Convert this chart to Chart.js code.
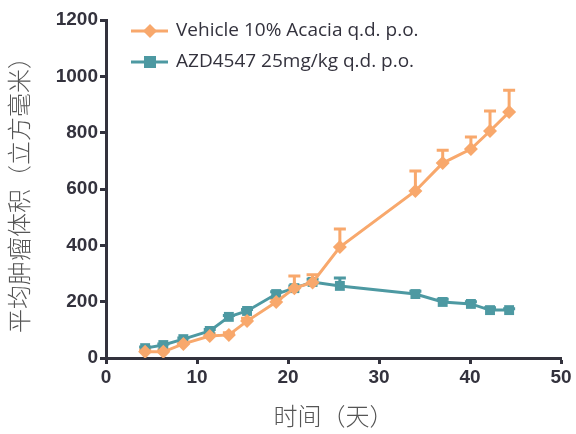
<!DOCTYPE html>
<html>
<head>
<meta charset="utf-8">
<script src="https://cdn.jsdelivr.net/npm/chart.js@4"></script>
<style>
  html, body { margin: 0; padding: 0; background: #fff; }
  #wrap { width: 576px; height: 434px; }
</style>
</head>
<body>
<div id="wrap"><canvas id="tumorChart" width="576" height="434"></canvas></div>
<script>
// data
const days = [4.3, 6.3, 8.5, 11.4, 13.5, 15.5, 18.7, 20.7, 22.7, 25.7, 34, 37, 40.1, 42.2, 44.3];
const vehicle = [22, 22, 50, 78, 82, 131, 199, 248, 268, 394, 593, 692, 742, 806, 873];
const vehicleErr = [6, 6, 6, 8, 8, 10, 12, 43, 28, 64, 71, 46, 43, 71, 78];
const azd = [35, 46, 67, 96, 146, 167, 227, 248, 270, 256, 227, 199, 192, 170, 170];
const azdErr = [4, 4, 4, 5, 5, 5, 8, 8, 10, 28, 10, 10, 8, 8, 5];
const seriesNames = ["Vehicle 10% Acacia q.d. p.o.", "AZD4547 25mg/kg q.d. p.o."];
const xTicks = [0, 10, 20, 30, 40, 50];
const yTicks = [0, 200, 400, 600, 800, 1000, 1200];

const orange = "#f8a86c";
const teal = "#4d99a2";
const axisColor = "#33323d";

function toPoints(ys) {
  return days.map(function (d, i) { return { x: d, y: ys[i] }; });
}

// upward-only error bars, drawn under the markers
const errorBars = {
  id: "errorBars",
  beforeDatasetsDraw(chart) {
    const ctx = chart.ctx;
    const xs = chart.scales.x, ys = chart.scales.y;
    const errs = [vehicleErr, azdErr];
    chart.data.datasets.forEach(function (ds, k) {
      ctx.save();
      ctx.strokeStyle = ds.borderColor;
      ctx.lineWidth = 3;
      ds.data.forEach(function (p, i) {
        const px = xs.getPixelForValue(p.x);
        const py = ys.getPixelForValue(p.y);
        const top = ys.getPixelForValue(p.y + errs[k][i]);
        ctx.beginPath();
        ctx.moveTo(px, py);
        ctx.lineTo(px, top);
        ctx.moveTo(px - 6, top);
        ctx.lineTo(px + 6, top);
        ctx.stroke();
      });
      ctx.restore();
    });
  }
};

// legend with line + marker, inside the plot
const lineLegend = {
  id: "lineLegend",
  afterDraw(chart) {
    const ctx = chart.ctx;
    const rows = [
      { y: 31, color: orange, shape: "diamond" },
      { y: 62, color: teal, shape: "square" }
    ];
    rows.forEach(function (r, i) {
      ctx.save();
      ctx.strokeStyle = r.color;
      ctx.fillStyle = r.color;
      ctx.lineWidth = 3;
      ctx.beginPath();
      ctx.moveTo(131, r.y);
      ctx.lineTo(168, r.y);
      ctx.stroke();
      ctx.beginPath();
      if (r.shape === "diamond") {
        ctx.moveTo(150, r.y - 7);
        ctx.lineTo(157, r.y);
        ctx.lineTo(150, r.y + 7);
        ctx.lineTo(143, r.y);
      } else {
        ctx.rect(144, r.y - 6, 12, 12);
      }
      ctx.fill();
      ctx.fillStyle = "#33323d";
      ctx.font = "19px 'Open Sans', sans-serif";
      ctx.textBaseline = "middle";
      ctx.fillText(seriesNames[i], 176, r.y);
      ctx.restore();
    });
  }
};

const tickFont = { family: "Liberation Sans", size: 19, weight: "bold" };

const ctx = document.getElementById("tumorChart").getContext("2d");

const tumorChart = new Chart(ctx, {
  type: "line",
  data: {
    datasets: [{
      label: seriesNames[0],
      data: toPoints(vehicle),
      borderColor: orange,
      backgroundColor: orange,
      borderWidth: 3,
      pointStyle: "rectRot",
      pointRadius: 7,
      pointBorderWidth: 0,
      tension: 0
    }, {
      label: seriesNames[1],
      data: toPoints(azd),
      borderColor: teal,
      backgroundColor: teal,
      borderWidth: 3,
      pointStyle: "rect",
      pointRadius: 7,
      pointBorderWidth: 0,
      tension: 0
    }]
  },
  options: {
    responsive: false,
    animation: false,
    layout: { padding: { top: 20, right: 15 } },
    plugins: {
      legend: { display: false },
      tooltip: { enabled: false }
    },
    scales: {
      x: {
        type: "linear",
        min: 0,
        max: 50,
        afterFit(scale) { scale.height = 76; },
        afterBuildTicks(scale) { scale.ticks = xTicks.map(function (v) { return { value: v }; }); },
        border: { display: true, width: 3, color: axisColor },
        grid: { display: true, drawOnChartArea: false, drawTicks: true, tickLength: 6, tickWidth: 3, tickColor: axisColor },
        ticks: {
          color: axisColor,
          padding: 2,
          font: tickFont,
          callback: function (v) { return String(v); }
        },
        title: {
          display: true,
          text: "时间（天）",
          color: "#555555",
          padding: { top: 6 },
          font: { family: "Noto Sans CJK SC", size: 24, weight: 300 }
        }
      },
      y: {
        type: "linear",
        min: 0,
        max: 1200,
        afterFit(scale) { scale.width = 106; },
        afterBuildTicks(scale) { scale.ticks = yTicks.map(function (v) { return { value: v }; }); },
        border: { display: true, width: 3, color: axisColor },
        grid: { display: true, drawOnChartArea: false, drawTicks: true, tickLength: 6, tickWidth: 3, tickColor: axisColor },
        ticks: {
          color: axisColor,
          padding: 2,
          font: tickFont,
          callback: function (v) { return String(v); }
        },
        title: {
          display: true,
          text: "平均肿瘤体积（立方毫米）",
          color: "#555555",
          padding: { top: 4, bottom: 4 },
          font: { family: "Noto Sans CJK SC", size: 24, weight: 300 }
        }
      }
    }
  },
  plugins: [errorBars, lineLegend]
});
</script>
</body>
</html>
